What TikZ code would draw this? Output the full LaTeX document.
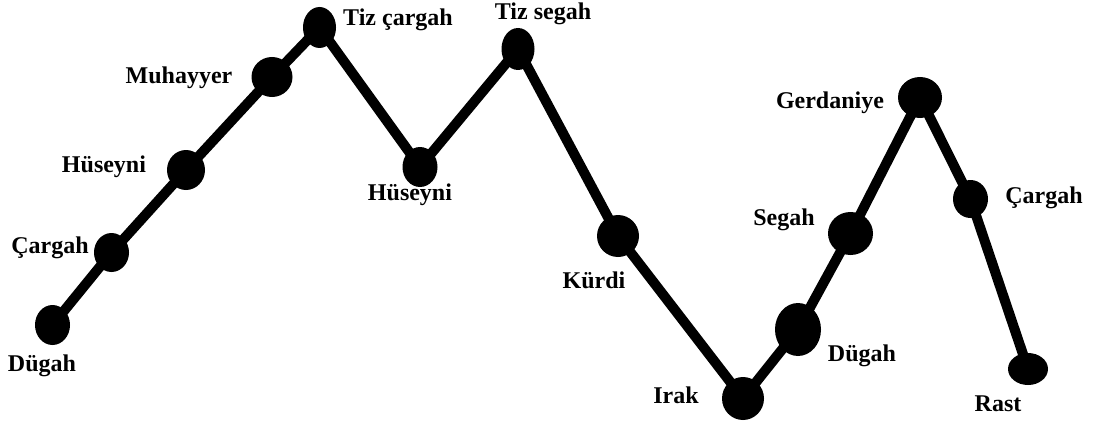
\documentclass[tikz,border=0pt]{standalone}
\usepackage{fontspec}
\setmainfont{Liberation Serif}
\usetikzlibrary{shapes.geometric}
\begin{document}
\begin{tikzpicture}[x=1pt,y=-1pt,
  dot/.style={ellipse,fill=black,inner sep=0pt},
  lbl/.style={font=\fontsize{24}{27}\selectfont\bfseries,inner sep=0pt,anchor=center},
  link/.style={line width=10pt,line join=round}]
\useasboundingbox[fill=white] (0,0) rectangle (1098,428);
\node[dot,minimum width=35pt,minimum height=40pt] (n1) at (52.5,325) {};
\node[dot,minimum width=35pt,minimum height=39pt] (n2) at (111.5,252.5) {};
\node[dot,minimum width=38pt,minimum height=40pt] (n3) at (186,170) {};
\node[dot,minimum width=41pt,minimum height=40pt] (n4) at (272,77) {};
\node[dot,minimum width=33pt,minimum height=41pt] (n5) at (319.5,27.5) {};
\node[dot,minimum width=35pt,minimum height=40pt] (n6) at (420,167) {};
\node[dot,minimum width=33pt,minimum height=42pt] (n7) at (518,49) {};
\node[dot,minimum width=42pt,minimum height=42pt] (n8) at (618,236) {};
\node[dot,minimum width=42pt,minimum height=43pt] (n9) at (743,398.5) {};
\node[dot,minimum width=46pt,minimum height=53pt] (n10) at (798,329.5) {};
\node[dot,minimum width=45pt,minimum height=43pt] (n11) at (850.5,233.5) {};
\node[dot,minimum width=44pt,minimum height=41pt] (n12) at (920,97.5) {};
\node[dot,minimum width=35pt,minimum height=38pt] (n13) at (970.5,199) {};
\node[dot,minimum width=40pt,minimum height=32pt] (n14) at (1028,369) {};
\draw[link] (n1.center) -- (n2.center) -- (n3.center) -- (n4.center) -- (n5.center)
  -- (n6.center) -- (n7.center) -- (n8.center) -- (n9.center) -- (n10.center)
  -- (n11.center) -- (n12.center) -- (n13.center) -- (n14.center);
\node[lbl] (l1) at (42,366) {Dügah};
\node[lbl] (l2) at (50,248) {Çargah};
\node[lbl] (l3) at (104,167) {Hüseyni};
\node[lbl] (l4) at (179,78) {Muhayyer};
\node[lbl] (l5) at (398,20) {Tiz çargah};
\node[lbl] (l6) at (410,195) {Hüseyni};
\node[lbl] (l7) at (543,14) {Tiz segah};
\node[lbl] (l8) at (594,280) {Kürdi};
\node[lbl] (l9) at (676,395) {Irak};
\node[lbl] (l10) at (862,356) {Dügah};
\node[lbl] (l11) at (784,220) {Segah};
\node[lbl] (l12) at (830,103) {Gerdaniye};
\node[lbl] (l13) at (1044,198) {Çargah};
\node[lbl] (l14) at (998,404) {Rast};
\end{tikzpicture}
\end{document}
